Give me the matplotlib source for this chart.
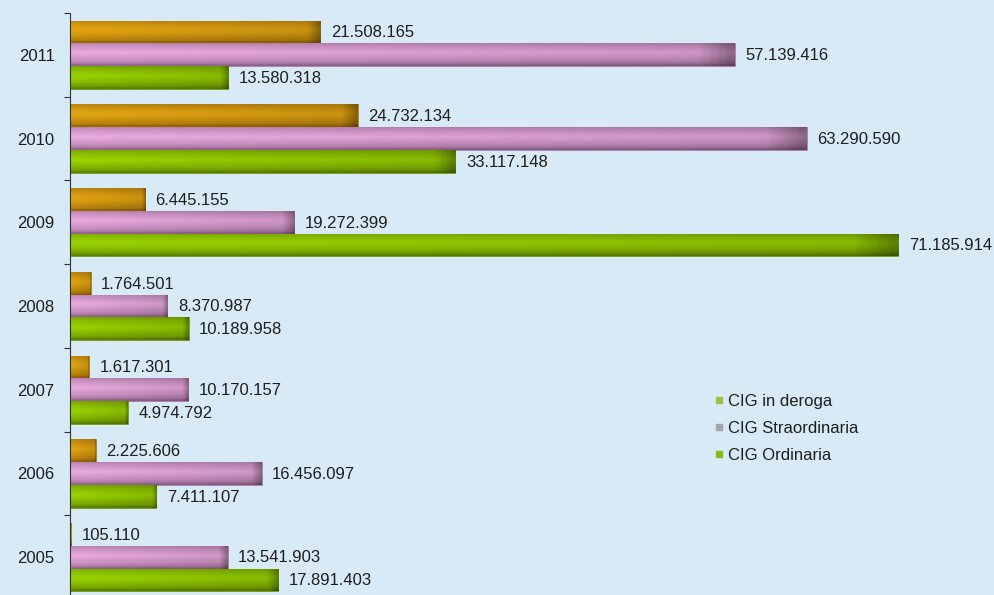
import numpy as np
import matplotlib.pyplot as plt
from matplotlib.lines import Line2D
from matplotlib.colors import to_rgb

plt.rcParams['font.family'] = ['Liberation Sans', 'DejaVu Sans']

years = ['2005', '2006', '2007', '2008', '2009', '2010', '2011']
deroga = [105110, 2225606, 1617301, 1764501, 6445155, 24732134, 21508165]
straord = [13541903, 16456097, 10170157, 8370987, 19272399, 63290590, 57139416]
ordinaria = [17891403, 7411107, 4974792, 10189958, 71185914, 33117148, 13580318]

series = [
    ('CIG in deroga', deroga, '#e4a612', '#9a6806', '#9cc43a'),
    ('CIG Straordinaria', straord, '#eaaae0', '#94668e', '#a8a4a8'),
    ('CIG Ordinaria', ordinaria, '#9ad400', '#5f8400', '#86bc10'),
]
offsets = [0.272, 0.0, -0.272]
bar_h = 0.272
bg = '#d7eaf6'


def grad_image(light, dark, n=40, m=80):
    # vertical gradient: darker at edges, light in the middle, dark band at the right end
    t = np.linspace(0, 1, n)
    v = 1 - np.abs(t - 0.42) * 1.9
    v = np.clip(v, 0, 1) ** 0.5
    s = np.linspace(0, 1, m)
    hfac = 1 - 0.12 * s - 0.25 * np.clip((s - 0.95) / 0.05, 0, 1)
    l = np.array(to_rgb(light))
    d = np.array(to_rgb(dark))
    img = d[None, None, :] + (l - d)[None, None, :] * v[:, None, None]
    img = img * hfac[None, :, None]
    return np.clip(img, 0, 1)


fig = plt.figure(figsize=(9.94, 5.95), dpi=100)
fig.patch.set_facecolor(bg)
ax = fig.add_axes([70 / 994, -4 / 595, 924 / 994, 586 / 595])
ax.set_facecolor(bg)

y = np.arange(len(years))
for (name, vals, light, dark, _), off in zip(series, offsets):
    bars = ax.barh(y + off, vals, height=bar_h, color=light, edgecolor=dark, linewidth=0.5)
    img = grad_image(light, dark)
    for b, v in zip(bars, vals):
        x0, y0 = b.get_x(), b.get_y()
        w, h = b.get_width(), b.get_height()
        im = ax.imshow(img, extent=(x0, x0 + w, y0, y0 + h), aspect='auto',
                       origin='upper', zorder=2)
        im.set_clip_path(b)
        b.set_zorder(1)
        ax.text(x0 + w + 0.9e6, y0 + h / 2 - 0.01, f'{v:,}'.replace(',', '.'),
                va='center', ha='left', fontsize=12, color='#1e1e1e', zorder=3)

ax.set_xlim(0, 79.4e6)
ax.set_ylim(-0.5, len(years) - 0.5)

for s in ['top', 'right', 'bottom']:
    ax.spines[s].set_visible(False)
ax.spines['left'].set_color('#333333')
ax.set_xticks([])
ax.set_yticks(np.arange(len(years) + 1) - 0.5)
ax.set_yticklabels([])
ax.tick_params(axis='y', which='major', length=4, color='#333333')
ax.set_yticks(y, minor=True)
ax.set_yticklabels(years, minor=True, fontsize=12, color='#1e1e1e')
ax.tick_params(axis='y', which='minor', length=0, pad=11)

handles = [Line2D([0], [0], marker='s', color='none', markerfacecolor=c,
                  markeredgecolor=c, markersize=4) for (_, _, _, _, c) in series]
ax.legend(handles, [s[0] for s in series], loc='upper left',
          bbox_to_anchor=(0.6815, 0.375), frameon=False, fontsize=12,
          handlelength=0.5, handletextpad=0.3, labelspacing=0.72,
          labelcolor='#1e1e1e')

fig.savefig('out.png', dpi=100, facecolor=bg)
